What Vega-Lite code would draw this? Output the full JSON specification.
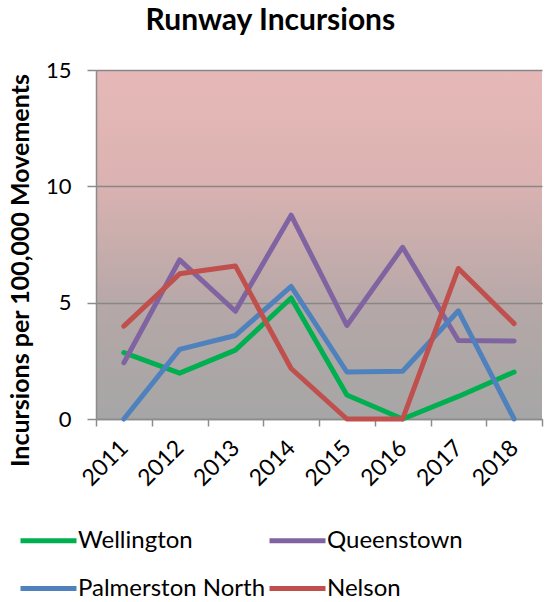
{
  "$schema": "https://vega.github.io/schema/vega-lite/v6.json",
  "autosize": "none",
  "width": 446,
  "height": 349,
  "padding": {"left": 96, "top": 70, "right": 3, "bottom": 183},
  "background": "white",
  "title": {
    "text": "Runway Incursions",
    "font": "Lato",
    "fontSize": 30,
    "fontWeight": "bold",
    "color": "black",
    "anchor": "middle",
    "frame": "bounds",
    "offset": 23,
    "dx": -5
  },
  "data": {
    "values": [
      {"year": "2011", "city": "Wellington", "value": 2.85},
      {"year": "2012", "city": "Wellington", "value": 1.97},
      {"year": "2013", "city": "Wellington", "value": 2.96},
      {"year": "2014", "city": "Wellington", "value": 5.2},
      {"year": "2015", "city": "Wellington", "value": 1.03},
      {"year": "2016", "city": "Wellington", "value": 0},
      {"year": "2017", "city": "Wellington", "value": 0.97},
      {"year": "2018", "city": "Wellington", "value": 2.02},
      {"year": "2011", "city": "Queenstown", "value": 2.42},
      {"year": "2012", "city": "Queenstown", "value": 6.84},
      {"year": "2013", "city": "Queenstown", "value": 4.63},
      {"year": "2014", "city": "Queenstown", "value": 8.76},
      {"year": "2015", "city": "Queenstown", "value": 4.02},
      {"year": "2016", "city": "Queenstown", "value": 7.38},
      {"year": "2017", "city": "Queenstown", "value": 3.37},
      {"year": "2018", "city": "Queenstown", "value": 3.35},
      {"year": "2011", "city": "Palmerston North", "value": 0},
      {"year": "2012", "city": "Palmerston North", "value": 2.99},
      {"year": "2013", "city": "Palmerston North", "value": 3.59},
      {"year": "2014", "city": "Palmerston North", "value": 5.7},
      {"year": "2015", "city": "Palmerston North", "value": 2.02},
      {"year": "2016", "city": "Palmerston North", "value": 2.05},
      {"year": "2017", "city": "Palmerston North", "value": 4.65},
      {"year": "2018", "city": "Palmerston North", "value": 0},
      {"year": "2011", "city": "Nelson", "value": 3.99},
      {"year": "2012", "city": "Nelson", "value": 6.24},
      {"year": "2013", "city": "Nelson", "value": 6.58},
      {"year": "2014", "city": "Nelson", "value": 2.17},
      {"year": "2015", "city": "Nelson", "value": 0},
      {"year": "2016", "city": "Nelson", "value": 0},
      {"year": "2017", "city": "Nelson", "value": 6.47},
      {"year": "2018", "city": "Nelson", "value": 4.1}
    ]
  },
  "mark": {"type": "line", "strokeWidth": 5, "strokeCap": "round", "strokeJoin": "round"},
  "encoding": {
    "x": {
      "field": "year",
      "type": "ordinal",
      "scale": {"type": "band", "paddingInner": 0, "paddingOuter": 0},
      "axis": {
        "title": null,
        "labelAngle": -45,
        "labelAlign": "right",
        "labelBaseline": "middle",
        "labelFont": "Lato",
        "labelFontSize": 23,
        "labelColor": "black",
        "labelPadding": 18,
        "tickBand": "extent",
        "tickSize": 7,
        "tickWidth": 1.5,
        "tickColor": "#8c8c8c",
        "domainColor": "#8c8c8c",
        "domainWidth": 1.5,
        "grid": false
      }
    },
    "y": {
      "field": "value",
      "type": "quantitative",
      "scale": {"domain": [0, 15], "nice": false},
      "axis": {
        "title": "Incursions per 100,000 Movements",
        "titleFont": "Lato",
        "titleFontSize": 25,
        "titleFontWeight": "bold",
        "titleColor": "black",
        "titleAngle": -90,
        "titleAlign": "center",
        "titleBaseline": "middle",
        "titleX": -76,
        "titleY": 200,
        "values": [0, 5, 10, 15],
        "labelFont": "Lato",
        "labelFontSize": 22,
        "labelColor": "black",
        "labelPadding": 16,
        "tickSize": 9,
        "tickWidth": 1.5,
        "tickColor": "#8c8c8c",
        "domainColor": "#8c8c8c",
        "domainWidth": 1.5,
        "grid": true,
        "gridColor": "#878787",
        "gridWidth": 1.5
      }
    },
    "color": {
      "field": "city",
      "type": "nominal",
      "scale": {
        "domain": ["Wellington", "Queenstown", "Palmerston North", "Nelson"],
        "range": ["#00B050", "#8064A2", "#4F81BD", "#C0504D"]
      },
      "legend": {
        "title": null,
        "orient": "none",
        "legendX": -78,
        "legendY": 440,
        "direction": "horizontal",
        "columns": 2,
        "columnPadding": -7,
        "rowPadding": 5,
        "symbolType": "stroke",
        "symbolSize": 3136,
        "symbolStrokeWidth": 5,
        "labelFont": "Lato",
        "labelFontSize": 24,
        "labelColor": "black",
        "labelOffset": -1,
        "labelLimit": 400
      }
    }
  },
  "config": {
    "view": {
      "stroke": null,
      "fill": {
        "gradient": "linear",
        "x1": 0, "y1": 0, "x2": 0, "y2": 1,
        "stops": [
          {"offset": 0, "color": "#E6B9B8"},
          {"offset": 0.3, "color": "#DCB3B2"},
          {"offset": 0.7, "color": "#B4A7A7"},
          {"offset": 1, "color": "#A6A6A6"}
        ]
      }
    }
  }
}
